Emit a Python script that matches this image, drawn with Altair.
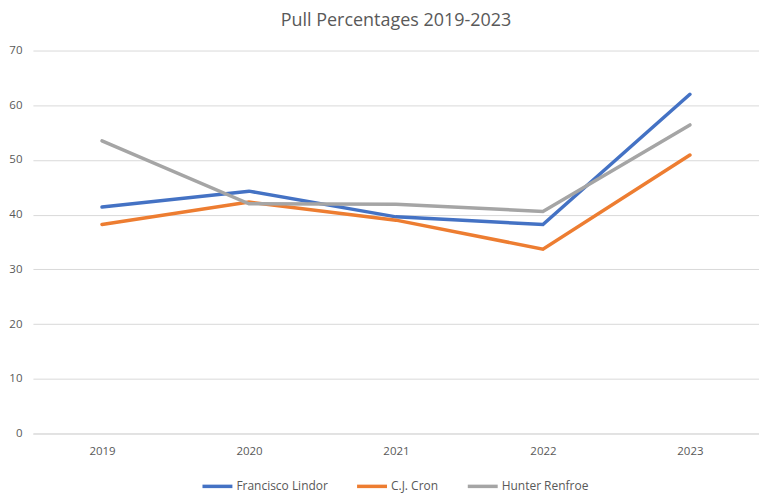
import altair as alt
import pandas as pd

years = ["2019", "2020", "2021", "2022", "2023"]
players = ["Francisco Lindor", "C.J. Cron", "Hunter Renfroe"]
lindor = [41.4, 44.3, 39.6, 38.2, 62.0]
cron = [38.2, 42.3, 39.0, 33.7, 50.9]
renfroe = [53.5, 42.0, 41.9, 40.6, 56.4]
colors = ["#4472C4", "#ED7D31", "#A5A5A5"]

rows = []
for name, vals in zip(players, [lindor, cron, renfroe]):
    for y, v in zip(years, vals):
        rows.append({"Year": y, "Player": name, "Pct": v})
df = pd.DataFrame(rows)

font = "Open Sans"

chart = alt.Chart(df).mark_line(strokeWidth=3.5, strokeCap="round", strokeJoin="miter").encode(
    x=alt.X("Year:N", sort=years, title=None,
            scale=alt.Scale(type="point", padding=0.47),
            axis=alt.Axis(labelAngle=0, ticks=False, domain=True, domainColor="#D9D9D9",
                          labelPadding=12, labelColor="#595959", labelFontSize=11.5, labelFont=font,
                          grid=False)),
    y=alt.Y("Pct:Q", title=None,
            scale=alt.Scale(domain=[0, 70], nice=False),
            axis=alt.Axis(values=[0, 10, 20, 30, 40, 50, 60, 70], ticks=False, domain=False,
                          gridColor="#D9D9D9", labelPadding=11, labelColor="#595959",
                          labelFontSize=11.5, labelFont=font)),
    color=alt.Color("Player:N", sort=players,
                    scale=alt.Scale(domain=players, range=colors),
                    legend=alt.Legend(title=None, orient="none", direction="horizontal",
                                      legendX=168, legendY=420, symbolType="stroke",
                                      symbolStrokeWidth=3.5, symbolSize=900,
                                      labelFont=font, labelFontSize=12, labelColor="#595959",
                                      columnPadding=22, labelOffset=2)),
    order=alt.Order("Player:N")
).properties(
    width=728, height=384,
    title=alt.TitleParams("Pull Percentages 2019-2023", font=font, fontSize=18,
                          fontWeight="normal", color="#595959", offset=15),
    padding={"left": 0, "top": 3, "right": 0, "bottom": 5}
).configure_view(stroke=None)

chart.save("out.html", embed_options={"renderer": "svg", "actions": False})
